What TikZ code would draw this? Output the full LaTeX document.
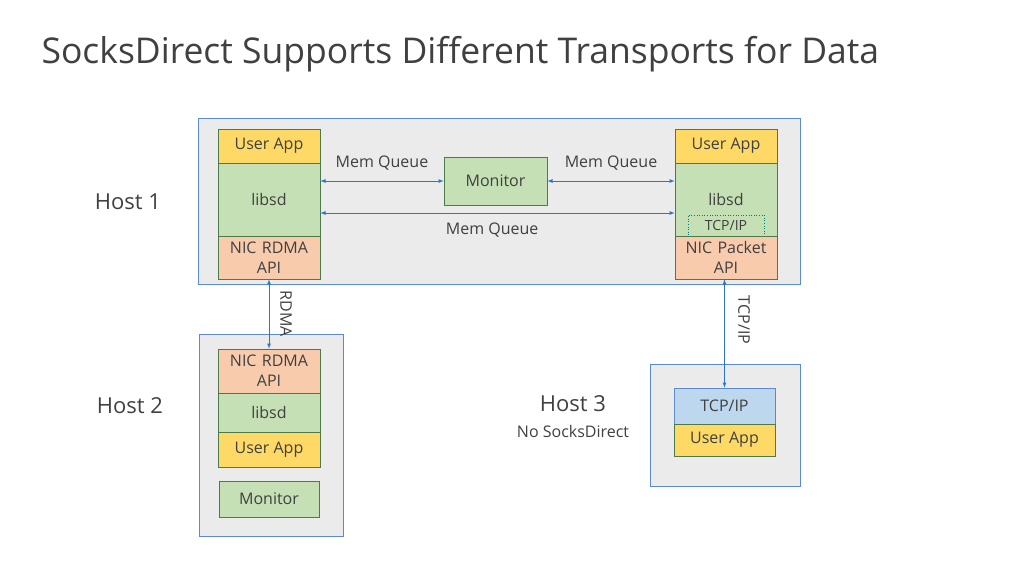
\documentclass[tikz,border=0pt]{standalone}
\usepackage{fontspec}
\setmainfont{Open Sans}
\usepackage{tikz}
\definecolor{appyellow}{HTML}{FFD966}
\definecolor{sdgreen}{HTML}{C5E0B4}
\definecolor{nicpink}{HTML}{F8CBAD}
\definecolor{tcpblue}{HTML}{BDD7EE}
\definecolor{hostgray}{HTML}{EBEBEB}
\definecolor{hostline}{HTML}{5B8BC9}
\definecolor{arrowblue}{HTML}{2E75C6}
\definecolor{textgray}{HTML}{404040}
\tikzset{
  host/.style={draw=hostline,fill=hostgray,line width=0.8pt},
  layer/.style={draw=black!55!green!40!gray,line width=0.6pt,text=textgray,align=center,font=\fontsize{16}{20}\selectfont},
  lbl/.style={text=textgray,font=\fontsize{16}{18}\selectfont},
  hostlbl/.style={text=textgray,font=\fontsize{22}{26}\selectfont},
  link/.style={draw=arrowblue,line width=0.8pt,<->,>=latex},
}
\begin{document}
\begin{tikzpicture}[x=1pt,y=-1pt]
\useasboundingbox (0,0) rectangle (1024,576);
\node[anchor=west,text=textgray,font=\fontsize{35.5}{40}\selectfont] (title) at (38,54) {SocksDirect Supports Different Transports for Data};
% host 1
\draw[host] (198,118) rectangle (800,284);
\node[hostlbl] (h1) at (128,202) {Host 1};
\node[layer,fill=appyellow,minimum width=102pt,minimum height=34pt] (app1) at (269,146) {User App};
\node[layer,fill=sdgreen,minimum width=102pt,minimum height=73pt] (sd1) at (269,199.5) {libsd};
\node[layer,fill=nicpink,minimum width=102pt,minimum height=43pt,text width=90pt,inner sep=0pt] (nic1) at (269,257.5) {NIC RDMA\\API};
\node[layer,fill=sdgreen,minimum width=103pt,minimum height=48pt] (mon1) at (495.5,181) {Monitor};
\node[layer,fill=appyellow,minimum width=102pt,minimum height=34pt] (app2) at (726,146) {User App};
\node[layer,fill=sdgreen,minimum width=102pt,minimum height=73pt] (sd2) at (726,199.5) {};
\node[lbl] at (726,199) {libsd};
\node[layer,dotted,draw=teal,minimum width=76pt,minimum height=21pt,inner sep=0pt] (tcp1) at (726,225.5) {\fontsize{14}{16}\selectfont TCP/IP};
\node[layer,fill=nicpink,minimum width=102pt,minimum height=43pt,text width=90pt,inner sep=0pt] (nic2) at (726,257.5) {NIC Packet\\API};
\coordinate (a1) at (sd1.east |- 0,181);
\coordinate (a2) at (sd2.west |- 0,181);
\coordinate (b1) at (sd1.east |- 0,213);
\coordinate (b2) at (sd2.west |- 0,213);
\draw[link] (a1) -- (mon1.west) node[lbl,midway,above=7pt] {Mem Queue};
\draw[link] (mon1.east) -- (a2) node[lbl,midway,above=7pt] {Mem Queue};
\draw[link] (b1) -- (b2) node[lbl,pos=0.485,below=6pt] {Mem Queue};
% host 2
\draw[host] (199,334) rectangle (343,536);
\node[hostlbl] (h2) at (130,406) {Host 2};
\node[layer,fill=nicpink,minimum width=102pt,minimum height=44pt,text width=90pt,inner sep=0pt] (nic3) at (269,371) {NIC RDMA\\API};
\node[layer,fill=sdgreen,minimum width=102pt,minimum height=39pt] (sd3) at (269,412.5) {libsd};
\node[layer,fill=appyellow,minimum width=102pt,minimum height=35pt] (app3) at (269,449.5) {User App};
\node[layer,fill=sdgreen,minimum width=100pt,minimum height=36pt] (mon2) at (269,499) {Monitor};
\draw[link] (nic1.south) -- (nic3.north);
\node[lbl,rotate=-90] (rdma) at (286,314) {RDMA};
% host 3
\draw[host] (650,364) rectangle (800,486);
\node[hostlbl] (h3) at (573,404) {Host 3};
\node[lbl] (nosd) at (573,431) {No SocksDirect};
\node[layer,fill=tcpblue,draw=hostline,minimum width=101pt,minimum height=36pt] (tcp2) at (724.5,406) {TCP/IP};
\node[layer,fill=appyellow,minimum width=101pt,minimum height=32pt] (app4) at (724.5,440) {User App};
\coordinate (c1) at (tcp2.north |- nic2.south);
\draw[link] (c1) -- (tcp2.north);
\node[lbl,rotate=-90] (tcplbl) at (744,320) {TCP/IP};
\end{tikzpicture}
\end{document}
